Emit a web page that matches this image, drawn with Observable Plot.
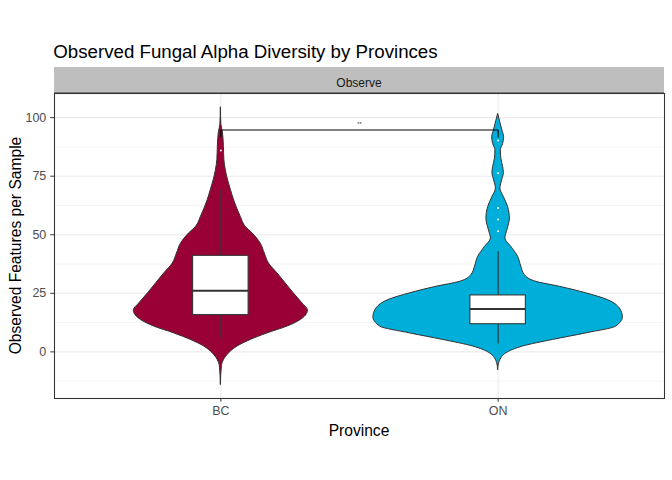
<!DOCTYPE html>
<html><head><meta charset="utf-8">
<script src="https://cdn.jsdelivr.net/npm/d3@7"></script>
<script src="https://cdn.jsdelivr.net/npm/@observablehq/plot@0.6"></script>
<style>
body{margin:0;background:#fff}
svg{font-family:"Liberation Sans",Arial,sans-serif}
</style>
</head><body><div id="chart"></div>
<script>
// ---- data ----
const categories = ["BC", "ON"];
const violinColors = ["#990035", "#00AEDA"];

// violin profiles: value (y) and relative density (ON max = 1)
const bcY = [-14.0, -6.2, -3.4, -0.6, 2.3, 5.1, 7.9, 10.8, 13.6, 17.6, 20.7, 25.0, 29.2, 33.5, 37.7, 42.0, 46.2, 50.6, 53.3, 57.6, 64.7, 69.2, 73.2, 77.4, 82.0, 88.0, 93.7, 97.0, 104.4];
const bcDensity = [0, 0.008, 0.026, 0.066, 0.134, 0.24, 0.374, 0.534, 0.64, 0.698, 0.654, 0.584, 0.52, 0.454, 0.386, 0.352, 0.32, 0.254, 0.2, 0.16, 0.106, 0.08, 0.058, 0.04, 0.028, 0.024, 0.016, 0.004, 0];
const onY = [-7.7, -4.8, -2.7, -0.6, 2.3, 5.1, 7.9, 10.8, 14.8, 18.6, 22.1, 25.0, 27.8, 29.9, 32.8, 36.3, 40.6, 44.8, 48.4, 51.9, 56.9, 61.8, 66.1, 69.7, 73.2, 76.3, 78.9, 82.4, 86.0, 88.8, 91.6, 94.5, 98.7, 101.6];
const onDensity = [0, 0.008, 0.026, 0.066, 0.2, 0.44, 0.706, 0.946, 1, 0.974, 0.88, 0.706, 0.494, 0.306, 0.214, 0.186, 0.16, 0.106, 0.058, 0.074, 0.094, 0.08, 0.046, 0.018, 0.032, 0.046, 0.04, 0.026, 0.022, 0.04, 0.048, 0.034, 0.014, 0];

// boxplot statistics per category
const q1 = [15.7, 11.8];
const median = [26.1, 18.3];
const q3 = [41.0, 24.1];
const whiskerLow = [5.5, 3.4];
const whiskerHigh = [69.2, 42.7];

// outliers
const outlierGroup = ["BC", "ON", "ON", "ON", "ON", "ON"];
const outlierValue = [86.0, 90.2, 76.3, 61.4, 56.5, 51.5];

// significance bracket
const sigLabel = "**";
const sigY = 94.7;
const sigTip = 91.7;

// axes
const yTicks = [0, 25, 50, 75, 100];
const yMinor = [-12.5, 12.5, 37.5, 62.5, 87.5];

// texts
const titleText = "Observed Fungal Alpha Diversity by Provinces";
const stripText = "Observe";
const xTitle = "Province";
const yTitle = "Observed Features per Sample";

// ---- build tables ----
const pos = g => categories.indexOf(g) + 1;
const violinRows = [
  ...bcY.map((y, i) => ({group: "BC", y, d: bcDensity[i]})),
  ...onY.map((y, i) => ({group: "ON", y, d: onDensity[i]}))
];
const boxRows = categories.map((g, i) => ({group: g, q1: q1[i], med: median[i], q3: q3[i], lo: whiskerLow[i], hi: whiskerHigh[i]}));
const outRows = outlierGroup.map((g, i) => ({group: g, y: outlierValue[i]}));
const halfViolin = 0.45, halfBox = 0.1;
const bracket = [
  {x: 1, y: sigTip}, {x: 1, y: sigY}, {x: 2, y: sigY}, {x: 2, y: sigTip}
];

const plot = Plot.plot({
  width: 672,
  height: 480,
  marginLeft: 54,
  marginRight: 8,
  marginTop: 93,
  marginBottom: 82,
  style: {fontFamily: '"Liberation Sans", Arial, sans-serif', background: "#fff"},
  x: {type: "linear", domain: [0.4, 2.6]},
  y: {domain: [-19.9, 110.3]},
  color: {domain: categories, range: violinColors},
  marks: [
    Plot.ruleY(yMinor, {stroke: "#EBEBEB", strokeWidth: 0.55}),
    Plot.ruleY(yTicks, {stroke: "#EBEBEB", strokeWidth: 1.07}),
    Plot.ruleX([1, 2], {stroke: "#EBEBEB", strokeWidth: 1.07}),
    Plot.areaX(violinRows, {
      y: "y",
      x1: d => pos(d.group) - halfViolin * d.d,
      x2: d => pos(d.group) + halfViolin * d.d,
      z: "group",
      fill: "group",
      stroke: "#333333",
      strokeWidth: 1,
      curve: "monotone-y"
    }),
    Plot.ruleX(boxRows, {x: d => pos(d.group), y1: "q3", y2: "hi", stroke: "#333333", strokeWidth: 1.07}),
    Plot.ruleX(boxRows, {x: d => pos(d.group), y1: "lo", y2: "q1", stroke: "#333333", strokeWidth: 1.07}),
    Plot.rect(boxRows, {
      x1: d => pos(d.group) - halfBox,
      x2: d => pos(d.group) + halfBox,
      y1: "q1", y2: "q3",
      fill: "white", stroke: "#333333", strokeWidth: 1.07
    }),
    Plot.ruleY(boxRows, {y: "med", x1: d => pos(d.group) - halfBox, x2: d => pos(d.group) + halfBox, stroke: "#333333", strokeWidth: 2.1}),
    Plot.dot(outRows, {x: d => pos(d.group), y: "y", r: 1, fill: "white", stroke: null}),
    Plot.line(bracket, {x: "x", y: "y", stroke: "#000", strokeWidth: 1.07}),
    Plot.text([sigLabel], {x: 1.5, y: sigY, text: d => d, dy: -6, fontSize: 5.5, fill: "#333"}),
    Plot.frame({stroke: "#333333", strokeWidth: 1.07}),
    Plot.axisY(yTicks, {tickSize: 3.7, tickPadding: 4.5, fontSize: 12.5, stroke: "#333333", fill: "#4D4D4D", label: null}),
    Plot.axisX([1, 2], {tickSize: 3.7, tickPadding: 3.5, fontSize: 12.5, stroke: "#333333", fill: "#4D4D4D", tickFormat: i => categories[i - 1], label: null})
  ]
});

const svg = d3.select(plot);
const xr = plot.scale("x").range;
const yr = plot.scale("y").range;
const pLeft = xr[0], pRight = xr[1], pTop = yr[1], pBottom = yr[0];

svg.append("rect")
  .attr("x", pLeft).attr("y", pTop - 26).attr("width", pRight - pLeft).attr("height", 26)
  .attr("fill", "#BEBEBE");
svg.append("line")
  .attr("x1", pLeft).attr("x2", pRight).attr("y1", pTop).attr("y2", pTop)
  .attr("stroke", "#333333").attr("stroke-width", 1.07);
svg.append("text")
  .attr("x", (pLeft + pRight) / 2).attr("y", pTop - 6.5)
  .attr("text-anchor", "middle").attr("font-size", 12).attr("fill", "#1A1A1A")
  .text(stripText);
svg.append("text")
  .attr("x", pLeft - 0.7).attr("y", pTop - 35)
  .attr("text-anchor", "start")
  .attr("font-size", 18.7).attr("fill", "#000")
  .text(titleText);
svg.append("text")
  .attr("x", (pLeft + pRight) / 2).attr("y", pBottom + 38)
  .attr("text-anchor", "middle").attr("font-size", 15.6).attr("fill", "#000")
  .text(xTitle);
svg.append("text")
  .attr("transform", `translate(20.5,${(pTop + pBottom) / 2}) rotate(-90)`)
  .attr("text-anchor", "middle").attr("font-size", 15.6).attr("fill", "#000")
  .text(yTitle);

document.getElementById("chart").appendChild(plot);
</script>
</body></html>
